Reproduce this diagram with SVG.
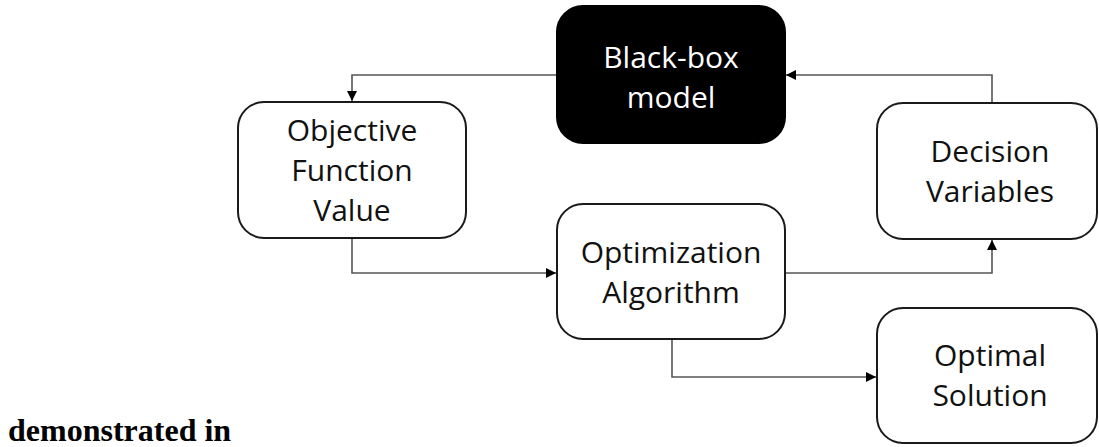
<svg xmlns="http://www.w3.org/2000/svg" width="1099" height="447" viewBox="0 0 1099 447">
  <style>
    .box { fill: #ffffff; stroke: #1a1a1a; stroke-width: 2; }
    .box.dark { fill: #000000; stroke: #000000; }
    .label { font-family: "Open Sans", "Liberation Sans", sans-serif; font-size: 30px; fill: #111111; text-anchor: middle; }
    .label.inv { fill: #ffffff; }
    .wire { fill: none; stroke: #555555; stroke-width: 1.6; marker-end: url(#arrow); }
    .caption { font-family: "Liberation Serif", "Times New Roman", serif; font-weight: bold; font-size: 32px; fill: #000000; }
  </style>
  <defs>
    <marker id="arrow" viewBox="0 0 10 10" refX="10" refY="5" markerWidth="11" markerHeight="10" markerUnits="userSpaceOnUse" orient="auto">
      <path d="M0,0 L10,5 L0,10 Z" fill="#000000"/>
    </marker>
  </defs>
  <rect width="1099" height="447" fill="#ffffff"/>

  <!-- connectors -->
  <g id="connectors">
    <path class="wire" d="M557,75 H352 V101"/>
    <path class="wire" d="M992,103 V75 H786"/>
    <path class="wire" d="M352,238 V273 H556"/>
    <path class="wire" d="M785,273 H992 V240"/>
    <path class="wire" d="M672,339 V377 H876"/>
  </g>

  <!-- nodes -->
  <g id="black-box-model">
    <rect class="box dark" x="557" y="6" width="228" height="137" rx="26"/>
    <text class="label inv" x="671" y="68">Black-box</text>
    <text class="label inv" x="671" y="108">model</text>
  </g>

  <g id="objective-function-value">
    <rect class="box" x="238" y="102" width="228" height="136" rx="26"/>
    <text class="label" x="352" y="141">Objective</text>
    <text class="label" x="352" y="181">Function</text>
    <text class="label" x="352" y="221">Value</text>
  </g>

  <g id="decision-variables">
    <rect class="box" x="877" y="103" width="220" height="136" rx="26"/>
    <text class="label" x="990" y="162">Decision</text>
    <text class="label" x="990" y="202">Variables</text>
  </g>

  <g id="optimization-algorithm">
    <rect class="box" x="557" y="204" width="228" height="135" rx="26"/>
    <text class="label" x="671" y="263">Optimization</text>
    <text class="label" x="671" y="303">Algorithm</text>
  </g>

  <g id="optimal-solution">
    <rect class="box" x="877" y="308" width="220" height="135" rx="26"/>
    <text class="label" x="990" y="366">Optimal</text>
    <text class="label" x="990" y="406">Solution</text>
  </g>

  <text class="caption" x="8" y="441">demonstrated in</text>
</svg>
